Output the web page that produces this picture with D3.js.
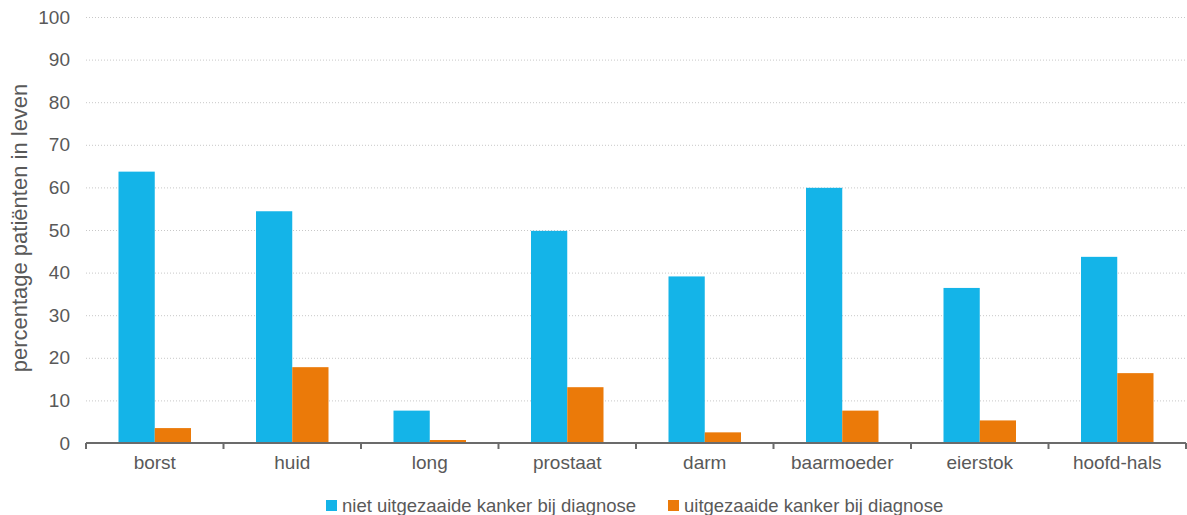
<!DOCTYPE html>
<html>
<head>
<meta charset="utf-8">
<script src="https://cdn.jsdelivr.net/npm/d3@7"></script>
<style>
  html, body { margin: 0; padding: 0; background: #fff; }
  svg { display: block; font-family: "Liberation Sans", Arial, sans-serif; }
</style>
</head>
<body>
<svg id="chart" width="1187" height="515"></svg>
<script>
// Survival per cancer type, split by metastasis status at diagnosis
const categories = ["borst", "huid", "long", "prostaat", "darm", "baarmoeder", "eierstok", "hoofd-hals"];
const seriesNames = ["niet uitgezaaide kanker bij diagnose", "uitgezaaide kanker bij diagnose"];
const nietUitgezaaid = [63.7, 54.4, 7.6, 49.8, 39.1, 59.9, 36.4, 43.7];
const uitgezaaid = [3.5, 17.8, 0.7, 13.1, 2.5, 7.6, 5.3, 16.4];
const yTicks = [0, 10, 20, 30, 40, 50, 60, 70, 80, 90, 100];
const yTitle = "percentage patiënten in leven";

const colors = ["#14b4e8", "#eb7a09"];
const textColor = "#595959";
const fontFamily = "'Liberation Sans', Arial, sans-serif";

const svg = d3.select("#chart");
const margin = { top: 17, right: 1, bottom: 72, left: 86 };
const width = 1187 - margin.left - margin.right;
const height = 515 - margin.top - margin.bottom;

const g = svg.append("g").attr("transform", `translate(${margin.left},${margin.top})`);

const x = d3.scaleBand().domain(categories).range([0, width]).paddingInner(0).paddingOuter(0);
const xInner = d3.scaleBand().domain([0, 1]).range([0, 72.5]);
const y = d3.scaleLinear().domain([0, 100]).range([height, 0]);

// dotted horizontal gridlines
g.append("g")
  .selectAll("line")
  .data(yTicks.filter(d => d > 0))
  .join("line")
  .attr("x1", 0).attr("x2", width)
  .attr("y1", d => y(d) + 0.5).attr("y2", d => y(d) + 0.5)
  .attr("stroke", "#c8c8c8")
  .attr("stroke-width", 1)
  .attr("stroke-dasharray", "1,2");

// y axis labels
const yAxis = g.append("g")
  .call(d3.axisLeft(y).tickValues(yTicks).tickSize(0).tickPadding(16));
yAxis.select(".domain").remove();
yAxis.selectAll("text")
  .attr("fill", textColor)
  .style("font-size", "19px")
  .style("font-family", fontFamily);

// bars
const table = categories.map((c, i) => ({ cat: c, values: [nietUitgezaaid[i], uitgezaaid[i]] }));
const groupOffset = (x.bandwidth() - 72.5) / 2;

g.append("g")
  .selectAll("g")
  .data(table)
  .join("g")
  .attr("transform", d => `translate(${x(d.cat) + groupOffset},0)`)
  .selectAll("rect")
  .data(d => d.values.map((v, k) => ({ v, k })))
  .join("rect")
  .attr("x", d => xInner(d.k))
  .attr("width", xInner.bandwidth())
  .attr("y", d => y(d.v))
  .attr("height", d => y(0) - y(d.v))
  .attr("fill", d => colors[d.k]);

// x axis
const xAxis = g.append("g")
  .attr("transform", `translate(0,${height})`)
  .call(d3.axisBottom(x).tickSize(0).tickPadding(13));
xAxis.select(".domain")
  .attr("stroke", "#6b6b6b")
  .attr("stroke-width", 2)
  .attr("d", `M0,0H${width}`);
xAxis.selectAll("text")
  .attr("fill", textColor)
  .style("font-size", "19px")
  .style("font-family", fontFamily);

// band boundary ticks
const boundaries = categories.map(c => x(c)).concat([width]);
xAxis.append("g")
  .selectAll("line")
  .data(boundaries)
  .join("line")
  .attr("x1", d => d).attr("x2", d => d)
  .attr("y1", 0).attr("y2", 6)
  .attr("stroke", "#6b6b6b")
  .attr("stroke-width", 2);

// y axis title
svg.append("text")
  .attr("transform", `translate(27,${margin.top + height / 2 - 2}) rotate(-90)`)
  .attr("text-anchor", "middle")
  .attr("fill", textColor)
  .style("font-size", "22px")
  .text(yTitle);

// legend
const legend = svg.append("g").attr("transform", "translate(0,506)");
const legendX = [326, 668];
seriesNames.forEach((name, k) => {
  const item = legend.append("g").attr("transform", `translate(${legendX[k]},0)`);
  item.append("rect")
    .attr("x", 0).attr("y", -6)
    .attr("width", 11).attr("height", 11)
    .attr("fill", colors[k]);
  item.append("text")
    .attr("x", 16).attr("y", 0)
    .attr("dy", "0.35em")
    .attr("fill", textColor)
    .style("font-size", "18.5px")
    .text(name);
});
</script>
</body>
</html>
